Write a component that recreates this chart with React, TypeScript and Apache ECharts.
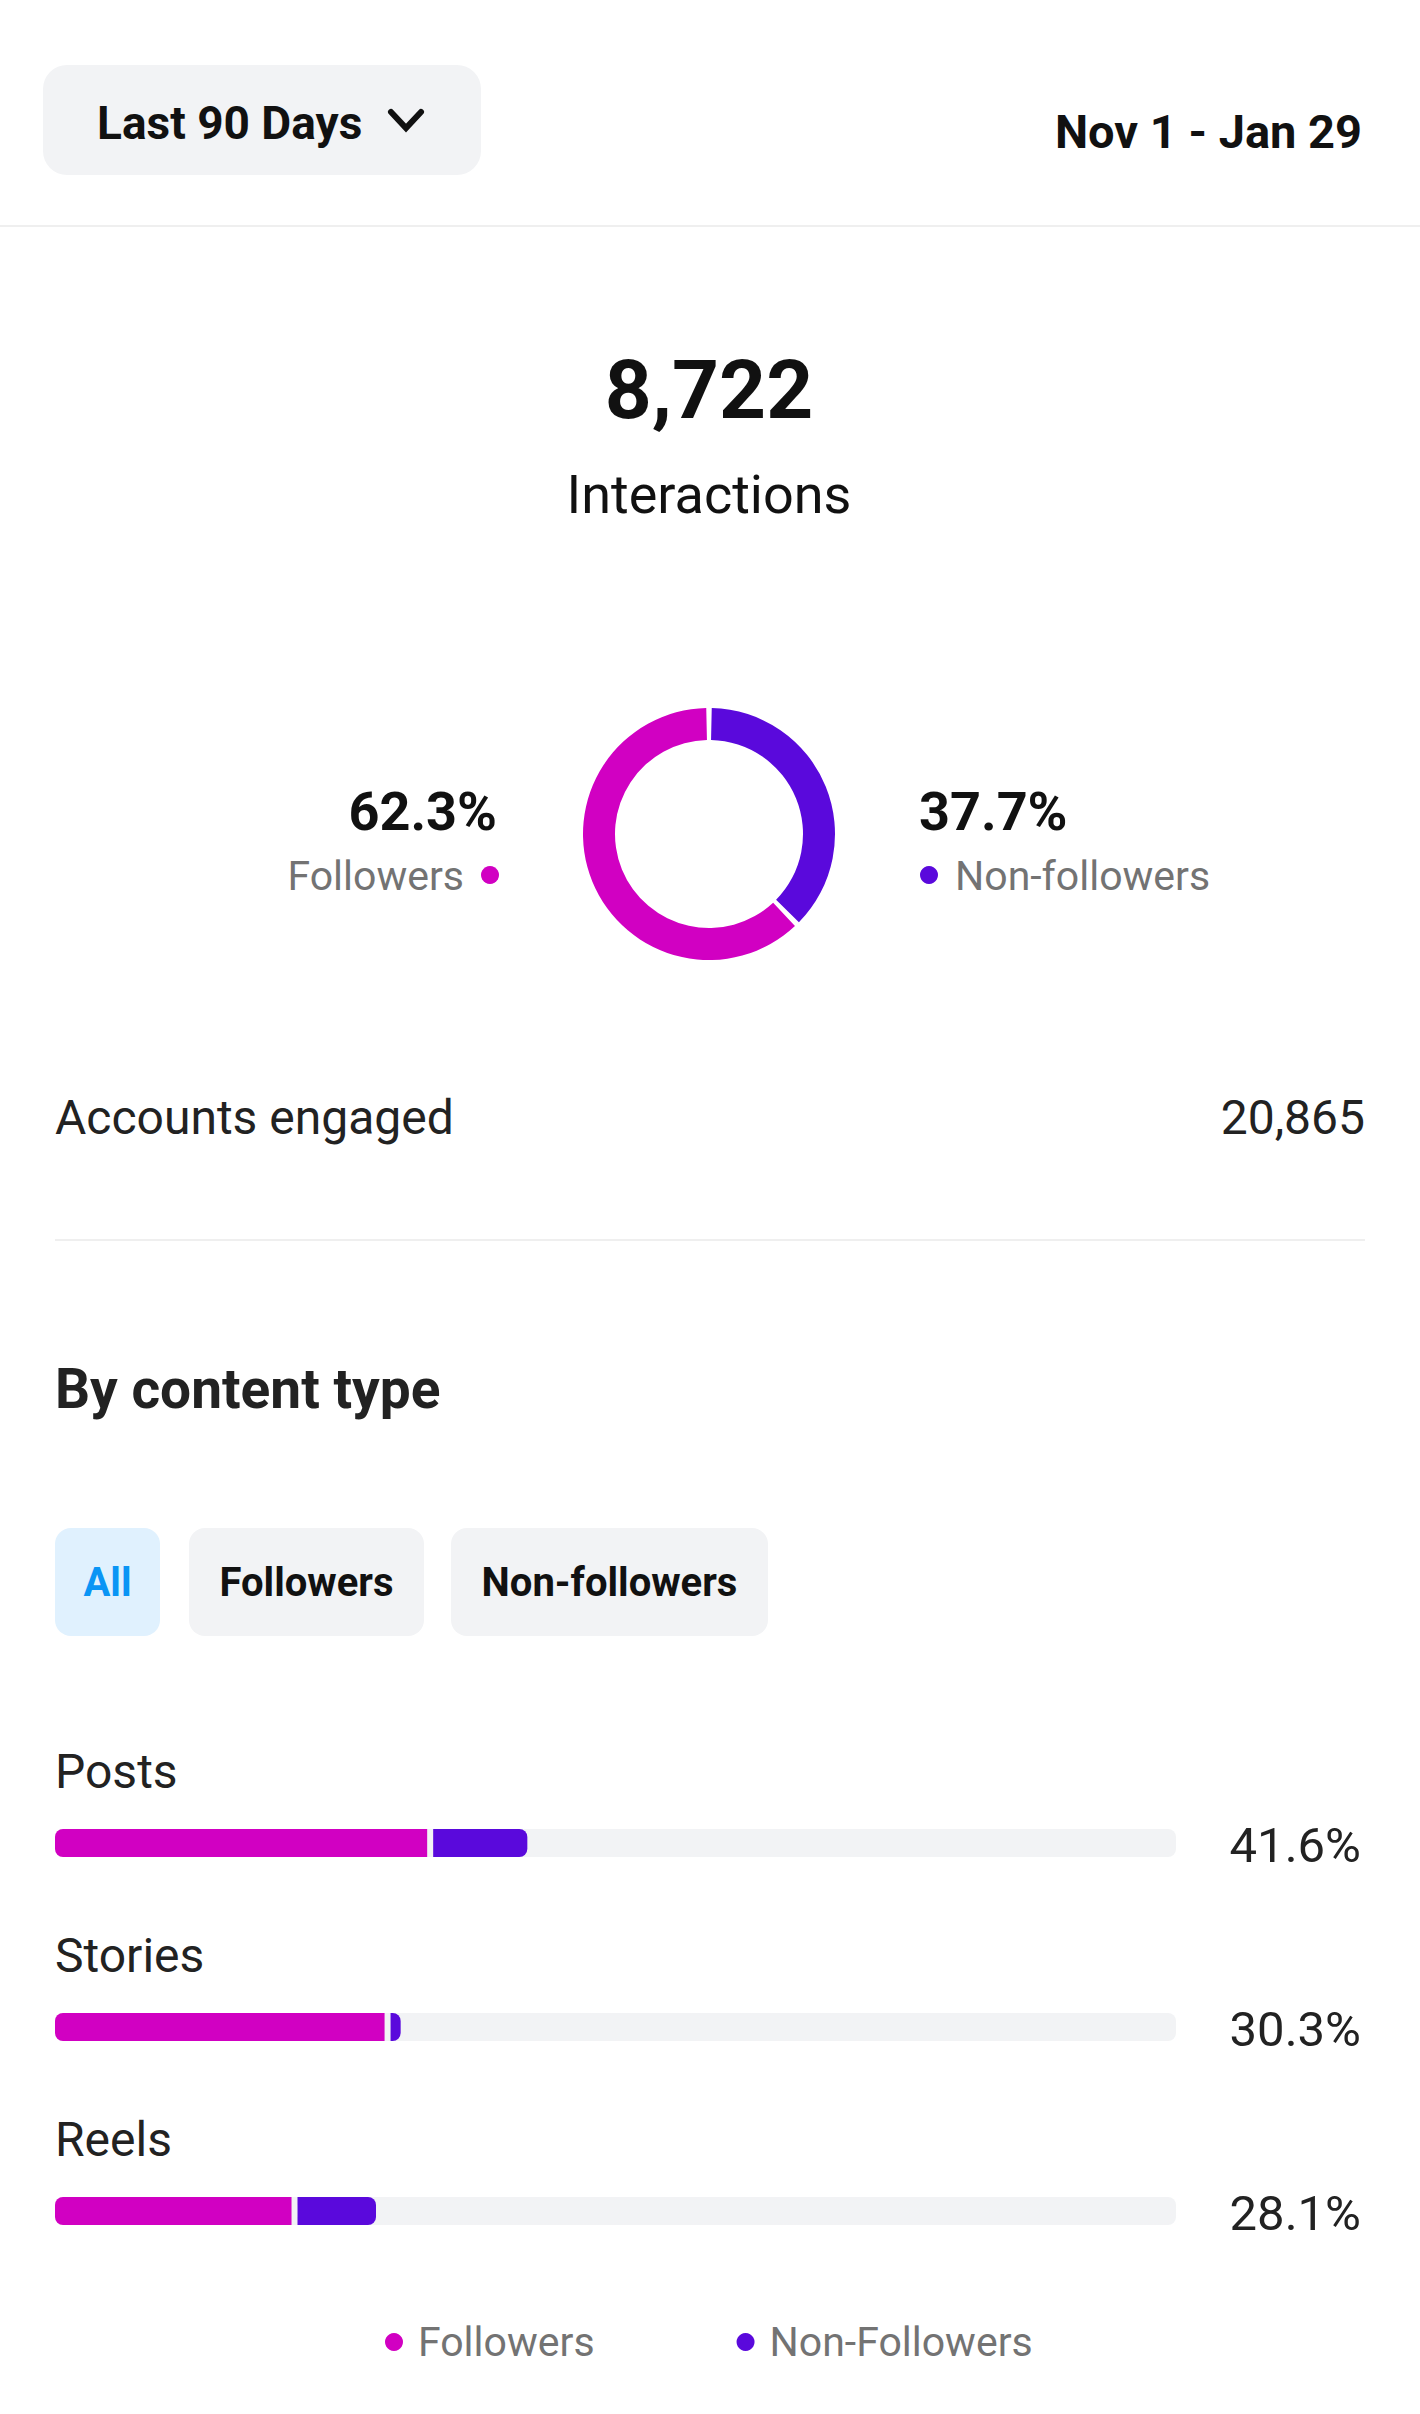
import React, { useEffect, useRef } from "react";
import * as echarts from "echarts";

const MAGENTA = "#d100c2";
const PURPLE = "#5a09dc";
const TRACK = "#f2f3f5";
const FONT = "Roboto, 'Noto Sans', sans-serif";

const periodLabel = "Last 90 Days";
const dateRange = "Nov 1 - Jan 29";
const totalInteractions = "8,722";
const interactionsLabel = "Interactions";
const donutNames = ["Non-followers", "Followers"];
const donutValues = [37.7, 62.3];
const accountsLabel = "Accounts engaged";
const accountsValue = "20,865";
const sectionTitle = "By content type";
const filterChips = ["All", "Followers", "Non-followers"];
const contentTypes = ["Posts", "Stories", "Reels"];
const followerShare = [33.2, 29.4, 21.1];
const nonFollowerShare = [8.4, 0.9, 7.0];
const totalShare = [41.6, 30.3, 28.1];
const legendNames = ["Followers", "Non-Followers"];

function txt(text: string, x: number, y: number, size: number, weight: string | number, fill: string, align: string) {
  return {
    type: "text",
    x,
    y,
    silent: true,
    style: {
      text,
      fill,
      fontSize: size,
      fontWeight: weight,
      fontFamily: FONT,
      align,
      textAlign: align,
      verticalAlign: "middle",
      textVerticalAlign: "middle",
    },
  };
}

export default function App() {
  const ref = useRef<HTMLDivElement>(null);
  useEffect(() => {
    document.body.style.margin = "0";
    if (!ref.current) return;
    const chart = echarts.init(ref.current, undefined, { renderer: "svg" });

    const rows = contentTypes.map((_, i) => [i, followerShare[i], nonFollowerShare[i], totalShare[i]]);

    const chipX = [55, 189, 451];
    const chipW = [105, 235, 317];
    const chips: any[] = [];
    filterChips.forEach((c, i) => {
      chips.push({
        type: "rect",
        silent: true,
        shape: { x: chipX[i], y: 1528, width: chipW[i], height: 108, r: 16 },
        style: { fill: i === 0 ? "#e0f1fe" : "#f2f3f5" },
      });
      chips.push(txt(c, chipX[i] + chipW[i] / 2, 1582, 40, "bold", i === 0 ? "#0a95f5" : "#111111", "center"));
    });

    const option: any = {
      animation: false,
      backgroundColor: "#ffffff",
      textStyle: { fontFamily: FONT },
      grid: { left: 55, right: 244, top: 1751, bottom: 111, containLabel: false },
      xAxis: { type: "value", min: 0, max: 100, show: false },
      yAxis: { type: "category", data: contentTypes, inverse: true, show: false },
      legend: {
        data: legendNames,
        icon: "circle",
        left: 380,
        top: 2313,
        itemWidth: 18,
        itemHeight: 18,
        itemGap: 142,
        selectedMode: false,
        textStyle: { color: "#737373", fontSize: 41, fontFamily: FONT, padding: [0, 0, 0, 10], lineHeight: 48 },
      },
      graphic: [
        {
          type: "rect",
          silent: true,
          shape: { x: 43, y: 65, width: 438, height: 110, r: 24 },
          style: { fill: "#f2f3f5" },
        },
        txt(periodLabel, 97, 123, 46, "bold", "#111111", "left"),
        {
          type: "polyline",
          silent: true,
          shape: { points: [[391, 112], [406, 128], [421, 112]] },
          style: { stroke: "#111111", lineWidth: 6, fill: "none", lineCap: "round", lineJoin: "miter" },
        },
        txt(dateRange, 1362, 131, 47, "bold", "#111111", "right"),
        {
          type: "line",
          silent: true,
          shape: { x1: 0, y1: 226, x2: 1420, y2: 226 },
          style: { stroke: "#efefef", lineWidth: 2 },
        },
        txt(totalInteractions, 709, 390, 82, "bold", "#111111", "center"),
        txt(interactionsLabel, 709, 494, 54, "normal", "#111111", "center"),
        txt(donutValues[1].toFixed(1) + "%", 497, 811, 54, "bold", "#111111", "right"),
        txt(donutNames[1], 464, 876, 41, "normal", "#737373", "right"),
        { type: "circle", silent: true, shape: { cx: 490, cy: 875, r: 9 }, style: { fill: MAGENTA } },
        txt(donutValues[0].toFixed(1) + "%", 919, 811, 54, "bold", "#111111", "left"),
        { type: "circle", silent: true, shape: { cx: 929, cy: 875, r: 9 }, style: { fill: PURPLE } },
        txt(donutNames[0], 955, 876, 41, "normal", "#737373", "left"),
        txt(accountsLabel, 55, 1117, 48, "normal", "#222222", "left"),
        txt(accountsValue, 1365, 1117, 48, "normal", "#222222", "right"),
        {
          type: "line",
          silent: true,
          shape: { x1: 55, y1: 1240, x2: 1365, y2: 1240 },
          style: { stroke: "#efefef", lineWidth: 2 },
        },
        txt(sectionTitle, 55, 1389, 55, "bold", "#222222", "left"),
        ...chips,
      ],
      series: [
        {
          type: "pie",
          silent: true,
          center: [709, 834],
          radius: [94, 126],
          startAngle: 90,
          clockwise: true,
          padAngle: 2.5,
          label: { show: false },
          labelLine: { show: false },
          emphasis: { disabled: true },
          data: donutNames.map((n, i) => ({
            name: n,
            value: donutValues[i],
            itemStyle: { color: i === 0 ? PURPLE : MAGENTA },
          })),
        },
        {
          type: "custom",
          name: legendNames[0],
          silent: true,
          itemStyle: { color: MAGENTA },
          encode: { x: 1, y: 0 },
          data: rows,
          renderItem: (params: any, api: any) => {
            const cat = api.value(0);
            const f = api.value(1);
            const start = api.coord([0, cat]);
            const end = api.coord([f, cat]);
            const full = api.coord([100, cat]);
            const h = 28;
            const cy = start[1];
            return {
              type: "group",
              children: [
                {
                  type: "rect",
                  shape: { x: start[0], y: cy - h / 2, width: full[0] - start[0], height: h, r: 8 },
                  style: { fill: TRACK },
                },
                {
                  type: "rect",
                  shape: { x: start[0], y: cy - h / 2, width: end[0] - start[0], height: h, r: [8, 0, 0, 8] },
                  style: { fill: MAGENTA },
                },
                txt(contentTypes[cat], start[0], cy - 72, 48, "normal", "#222222", "left"),
                txt(api.value(3).toFixed(1) + "%", full[0] + 185, cy + 2, 49, "normal", "#222222", "right"),
              ],
            };
          },
        },
        {
          type: "custom",
          name: legendNames[1],
          silent: true,
          itemStyle: { color: PURPLE },
          encode: { x: 2, y: 0 },
          data: rows,
          renderItem: (params: any, api: any) => {
            const cat = api.value(0);
            const f = api.value(1);
            const n = api.value(2);
            const a = api.coord([f, cat]);
            const b = api.coord([f + n, cat]);
            const h = 28;
            const cy = a[1];
            const gap = 6;
            return {
              type: "rect",
              shape: { x: a[0] + gap, y: cy - h / 2, width: Math.max(b[0] - a[0], 1), height: h, r: [0, 8, 8, 0] },
              style: { fill: PURPLE },
            };
          },
        },
      ],
    };
    chart.setOption(option);
    return () => chart.dispose();
  }, []);
  return <div ref={ref} style={{ width: 1420, height: 2414, background: "#ffffff" }} />;
}
